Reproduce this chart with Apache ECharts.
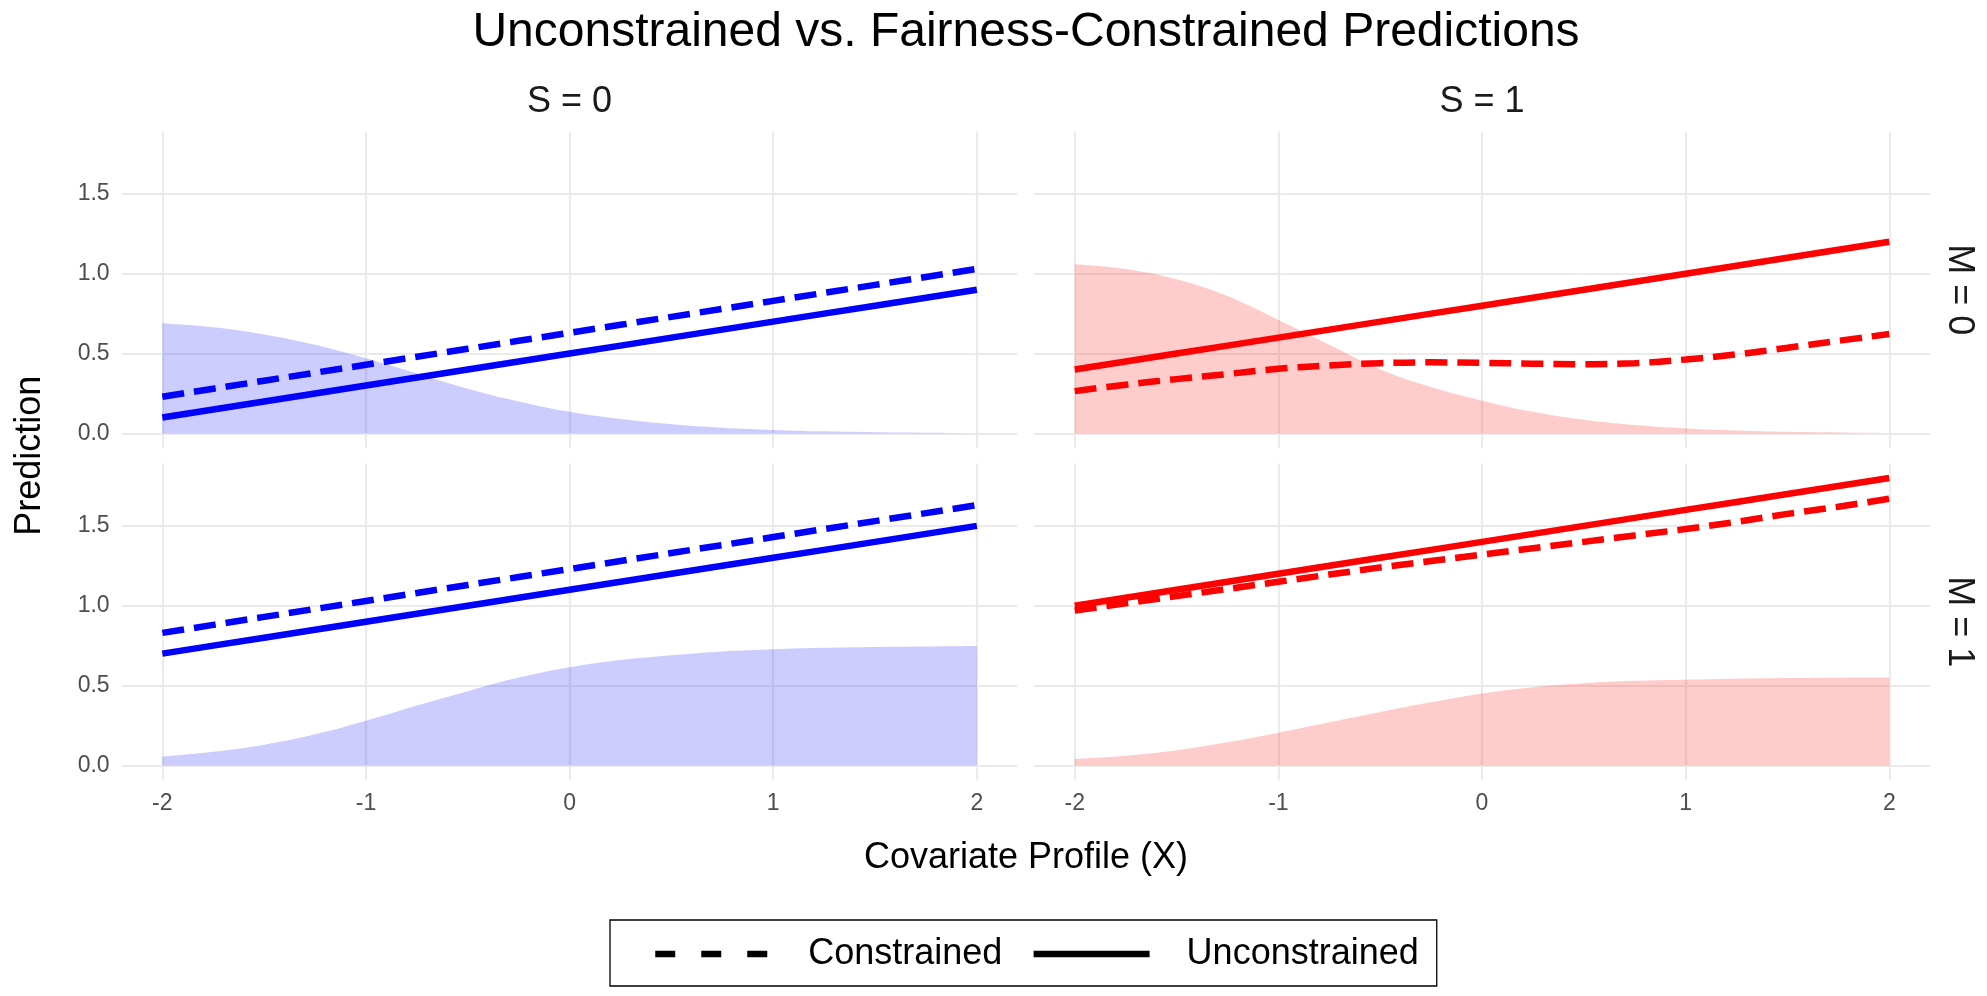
<!DOCTYPE html>
<html>
<head>
<meta charset="utf-8">
<script src="https://cdn.jsdelivr.net/npm/echarts@6/dist/echarts.min.js"></script>
<style>
html,body{margin:0;padding:0;background:#fff;}
#chart{width:1987px;height:996px;}
</style>
</head>
<body>
<div id="chart"></div>
<script>
// ---------- data ----------
const xValues = [-2,-1.75,-1.5,-1.25,-1,-0.75,-0.5,-0.25,0,0.25,0.5,0.75,1,1.25,1.5,1.75,2];
const xTicks = [-2,-1,0,1,2];
const yTicks = [0,0.5,1,1.5];
const stripS = ['S = 0','S = 1'];
const stripM = ['M = 0','M = 1'];
const legendNames = ['Constrained','Unconstrained'];

// S = 0, M = 0
const areaS0M0  = [0.69,0.665,0.62,0.555,0.47,0.375,0.28,0.20,0.135,0.09,0.058,0.036,0.022,0.013,0.008,0.005,0.003];
const consS0M0  = [0.23,0.28,0.33,0.38,0.43,0.48,0.53,0.58,0.63,0.68,0.73,0.78,0.83,0.88,0.93,0.98,1.03];
const unconS0M0 = [0.10,0.15,0.20,0.25,0.30,0.35,0.40,0.45,0.50,0.55,0.60,0.65,0.70,0.75,0.80,0.85,0.90];
// S = 1, M = 0
const areaS1M0  = [1.06,1.03,0.965,0.86,0.71,0.555,0.40,0.29,0.205,0.135,0.085,0.052,0.031,0.018,0.010,0.006,0.003];
const consS1M0  = [0.265,0.305,0.34,0.372,0.405,0.425,0.44,0.445,0.442,0.437,0.433,0.44,0.463,0.495,0.536,0.58,0.622];
const unconS1M0 = [0.40,0.45,0.50,0.55,0.60,0.65,0.70,0.75,0.80,0.85,0.90,0.95,1.00,1.05,1.10,1.15,1.20];
// S = 0, M = 1
const areaS0M1  = [0.055,0.085,0.13,0.195,0.28,0.375,0.465,0.55,0.615,0.66,0.69,0.714,0.728,0.737,0.742,0.745,0.748];
const consS0M1  = [0.83,0.88,0.93,0.98,1.03,1.08,1.13,1.18,1.23,1.28,1.33,1.38,1.43,1.48,1.53,1.58,1.63];
const unconS0M1 = [0.70,0.75,0.80,0.85,0.90,0.95,1.00,1.05,1.10,1.15,1.20,1.25,1.30,1.35,1.40,1.45,1.50];
// S = 1, M = 1
const areaS1M1  = [0.04,0.06,0.095,0.145,0.205,0.27,0.335,0.395,0.45,0.49,0.515,0.53,0.537,0.543,0.547,0.549,0.55];
const consS1M1  = [0.97,1.015,1.06,1.105,1.15,1.195,1.24,1.28,1.32,1.36,1.40,1.44,1.48,1.525,1.575,1.62,1.67];
const unconS1M1 = [1.00,1.05,1.10,1.15,1.20,1.25,1.30,1.35,1.40,1.45,1.50,1.55,1.60,1.65,1.70,1.75,1.80];

// ---------- layout / style ----------
const FONT = '"Liberation Sans", Arial, Helvetica, sans-serif';
const colLeft = [121.6, 1034];
const colWidth = 896;
const rowTop = [131.6, 463.6];
const rowHeight = 316.2;
const blue = '#0000FF', red = '#FF0000';
const blueFill = 'rgba(0,0,255,0.2)', redFill = 'rgba(255,0,0,0.2)';
const LW = 6.5;
const DASH = [22, 10];
const LEGEND_DASH = [20, 26];

const panels = [
  {col:0,row:0,area:areaS0M0,cons:consS0M0,uncon:unconS0M0,color:blue,fill:blueFill,curve:false},
  {col:1,row:0,area:areaS1M0,cons:consS1M0,uncon:unconS1M0,color:red,fill:redFill,curve:true},
  {col:0,row:1,area:areaS0M1,cons:consS0M1,uncon:unconS0M1,color:blue,fill:blueFill,curve:false},
  {col:1,row:1,area:areaS1M1,cons:consS1M1,uncon:unconS1M1,color:red,fill:redFill,curve:false}
];

const zip = arr => xValues.map((x,i)=>[x, arr[i]]);

const grids = [], xAxes = [], yAxes = [], series = [];
panels.forEach((p, i) => {
  grids.push({left: colLeft[p.col], top: rowTop[p.row], width: colWidth, height: rowHeight,
              containLabel:false, outerBoundsMode:'none'});
  xAxes.push({
    type:'value', gridIndex:i, min:-2.2, max:2.2,
    axisLine:{show:false},
    axisTick:{show:false, customValues:xTicks},
    axisLabel:{show:p.row===1, customValues:xTicks, fontSize:23, color:'#4D4D4D', fontFamily:FONT, margin:12,
               formatter: v => String(v)},
    splitLine:{show:true, lineStyle:{color:'#EBEBEB', width:2.2}}
  });
  yAxes.push({
    type:'value', gridIndex:i, min:-0.09, max:1.89,
    axisLine:{show:false},
    axisTick:{show:false, customValues:yTicks},
    axisLabel:{show:p.col===0, customValues:yTicks, fontSize:23, color:'#4D4D4D', fontFamily:FONT, margin:12,
               formatter: v => v.toFixed(1)},
    splitLine:{show:true, lineStyle:{color:'#EBEBEB', width:2.2}}
  });
  series.push({
    name:'area'+i, type:'line', xAxisIndex:i, yAxisIndex:i, data:zip(p.area),
    symbol:'none', smooth:0.4, lineStyle:{width:0, opacity:0}, areaStyle:{color:p.fill, opacity:1},
    silent:true
  });
  series.push({
    name:'cons'+i, type:'line', xAxisIndex:i, yAxisIndex:i, data:zip(p.cons),
    symbol:'none', smooth:p.curve ? 0.4 : false,
    lineStyle:{color:p.color, width:LW, type:DASH, cap:'butt'}, silent:true
  });
  series.push({
    name:'uncon'+i, type:'line', xAxisIndex:i, yAxisIndex:i, data:zip(p.uncon),
    symbol:'none', lineStyle:{color:p.color, width:LW, type:'solid', cap:'butt'}, silent:true
  });
});

// legend-only series
series.push({name:legendNames[0], type:'line', xAxisIndex:0, yAxisIndex:0, data:[], symbol:'none',
  itemStyle:{color:'#000'}, lineStyle:{color:'#000', width:LW, type:LEGEND_DASH, cap:'butt'}});
series.push({name:legendNames[1], type:'line', xAxisIndex:0, yAxisIndex:0, data:[], symbol:'none',
  itemStyle:{color:'#000'}, lineStyle:{color:'#000', width:LW, type:'solid', cap:'butt'}});

const textEl = (text, x, y, size, color, rot) => ({
  type:'text', x:x, y:y, rotation: rot || 0, silent:true,
  style:{text:text, fontSize:size, fontFamily:FONT, fill:color, align:'center', verticalAlign:'middle',
         textAlign:'center', textVerticalAlign:'middle'}
});

const graphics = [
  textEl('Unconstrained vs. Fairness-Constrained Predictions', 1026, 33, 48, '#000'),
  textEl(stripS[0], colLeft[0] + colWidth/2, 102, 36, '#1A1A1A'),
  textEl(stripS[1], colLeft[1] + colWidth/2, 102, 36, '#1A1A1A'),
  textEl(stripM[0], 1959, rowTop[0] + rowHeight/2, 36, '#1A1A1A', -Math.PI/2),
  textEl(stripM[1], 1959, rowTop[1] + rowHeight/2, 36, '#1A1A1A', -Math.PI/2),
  textEl('Prediction', 30, (rowTop[0] + rowTop[1] + rowHeight)/2, 36, '#000', Math.PI/2),
  textEl('Covariate Profile (X)', 1026, 858, 36, '#000')
];

const chart = echarts.init(document.getElementById('chart'), null, {renderer:'canvas'});
chart.setOption({
  backgroundColor:'#fff',
  animation:false,
  grid:grids, xAxis:xAxes, yAxis:yAxes, series:series,
  legend:{
    show:true, left:610, top:920, orient:'horizontal',
    data:[
      {name:legendNames[0], lineStyle:{color:'#000', width:LW, type:LEGEND_DASH, opacity:1, cap:'butt'}},
      {name:legendNames[1], lineStyle:{color:'#000', width:LW, type:'solid', opacity:1, cap:'butt'}}
    ],
    selectedMode:false,
    itemWidth:116, itemHeight:20, itemGap:28,
    padding:[14,18,12,42],
    borderColor:'#000', borderWidth:1.3, borderRadius:0, backgroundColor:'#fff',
    itemStyle:{opacity:0},
    lineStyle:{width:LW, opacity:1, color:'#000'},
    textStyle:{fontSize:36, color:'#000', fontFamily:FONT, padding:[0,0,0,32], lineHeight:40}
  },
  graphic:graphics
});
</script>
</body>
</html>
